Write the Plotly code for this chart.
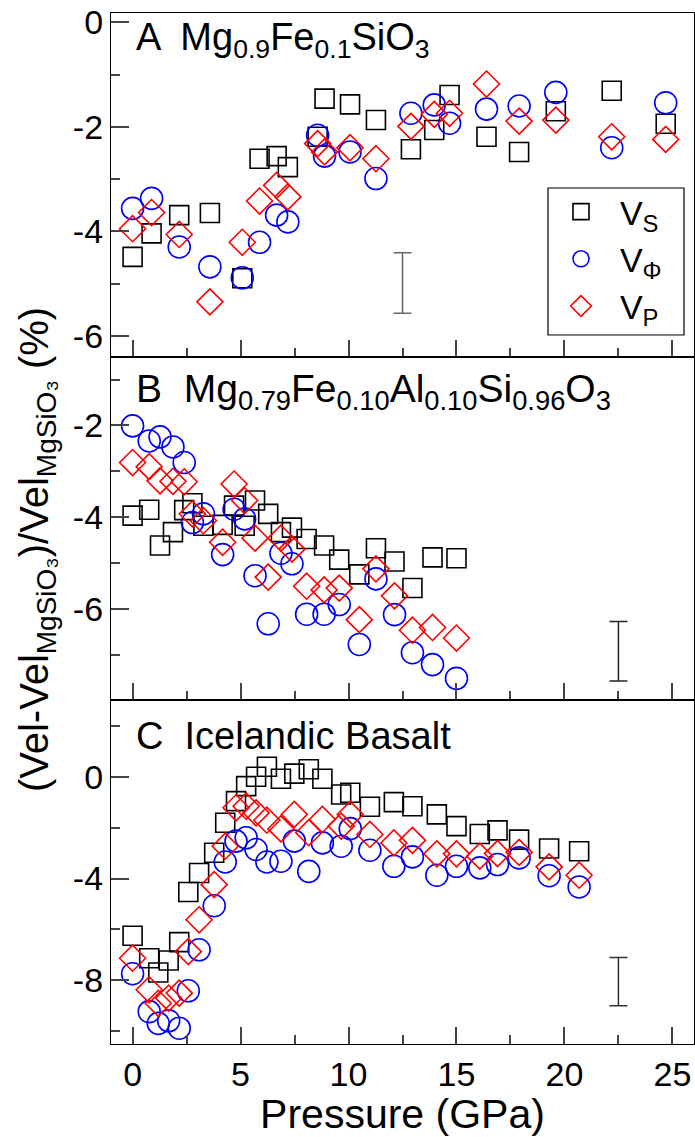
import plotly.graph_objects as go
from plotly.subplots import make_subplots

# ---------------- data ----------------
P_A = [0.0, 0.88, 2.16, 3.58, 5.08, 5.88, 6.67, 7.19, 8.57, 8.89, 10.07, 11.27,
       12.89, 13.97, 14.68, 16.39, 17.9, 19.6, 22.19, 24.69]
VS_A = [-4.49, -4.04, -3.69, -3.65, -4.90, -2.61, -2.56, -2.77, -2.19, -1.46, -1.57, -1.87,
        -2.43, -2.06, -1.39, -2.19, -2.48, -1.70, -1.31, -1.94]
VPHI_A = [-3.56, -3.37, -4.30, -4.68, -4.89, -4.21, -3.69, -3.82, -2.16, -2.56, -2.48, -2.99,
          -1.74, -1.58, -1.93, -1.66, -1.60, -1.34, -2.40, -1.54]
VP_A = [-3.95, -3.64, -4.06, -5.35, -4.21, -3.42, -3.12, -3.34, -2.32, -2.48, -2.40, -2.61,
        -1.99, -1.76, -1.74, -1.18, -1.89, -1.87, -2.19, -2.24]

P_B = [0.0, 0.77, 1.27, 1.87, 2.39, 2.77, 3.28, 4.17, 4.70, 5.19, 5.67, 6.28, 6.87, 7.38,
       8.06, 8.87, 9.57, 10.5, 11.27, 12.13, 12.96, 13.89, 15.0]
VS_B = [-3.97, -3.84, -4.62, -4.33, -3.85, -3.70, -4.19, -4.17, -3.75, -4.19, -3.64, -3.93,
        -4.33, -4.23, -4.48, -4.62, -4.93, -5.25, -4.68, -4.97, -5.55, -4.88, -4.90]
VPHI_B = [-2.01, -2.34, -2.25, -2.47, -2.81, -4.12, -3.93, -4.82, -3.83, -4.04, -5.28, -6.33,
          -4.79, -5.02, -6.12, -6.12, -5.91, -6.78, -5.35, -6.13, -6.96, -7.22, -7.52]
VP_B = [-2.81, -2.90, -3.21, -3.22, -3.23, -3.93, -4.08, -4.55, -3.28, -3.64, -4.46, -5.31,
        -4.46, -4.70, -5.51, -5.59, -5.55, -6.24, -5.13, -5.72, -6.47, -6.41, -6.64]

P_C = [0.0, 0.77, 1.19, 1.67, 2.16, 2.58, 3.08, 3.78, 4.29, 4.79, 5.26, 5.72, 6.22, 6.87,
       7.49, 8.16, 8.79, 9.66, 10.08, 10.99, 12.1, 12.96, 14.09, 15.0, 16.08, 16.9, 17.9,
       19.29, 20.68]
VS_C = [-6.25, -7.13, -7.69, -7.22, -6.50, -4.53, -3.78, -2.99, -1.81, -0.96, -0.37, 0.0,
        0.39, -0.08, 0.12, 0.29, -0.08, -0.70, -0.63, -1.18, -1.00, -1.16, -1.48, -1.94,
        -2.25, -2.11, -2.47, -2.82, -2.93]
VPHI_C = [-7.74, -9.23, -9.69, -9.59, -9.88, -8.41, -6.80, -5.07, -3.35, -2.53, -2.40, -2.86,
          -3.35, -3.32, -2.53, -3.72, -2.60, -2.73, -2.04, -2.89, -3.52, -3.15, -3.87, -3.52,
          -3.58, -3.45, -3.19, -3.89, -4.33]
VP_C = [-7.13, -8.37, -8.90, -8.70, -8.50, -6.87, -5.62, -4.24, -2.73, -1.22, -1.16, -1.42,
        -1.71, -2.05, -1.48, -2.20, -1.68, -1.94, -1.48, -2.27, -2.60, -2.50, -3.03, -3.03,
        -3.12, -3.02, -2.97, -3.54, -3.87]

# representative error bars (one per panel)
ERR_P = [12.5, 22.5, 22.5]
ERR_Y = [-4.99, -6.93, -8.05]
ERR_HALF = [0.58, 0.65, 0.95]
ERR_COLOR = ["#666666", "#222222", "#333333"]

PANEL_LABELS = [
    "A  Mg<sub>0.9</sub>Fe<sub>0.1</sub>SiO<sub>3</sub>",
    "B  Mg<sub>0.79</sub>Fe<sub>0.10</sub>Al<sub>0.10</sub>Si<sub>0.96</sub>O<sub>3</sub>",
    "C  Icelandic Basalt",
]
SERIES_NAMES = ["V<sub>S</sub>", "V<sub>\u03a6</sub>", "V<sub>P</sub>"]

Y_RANGES = [[-6.4, 0.18], [-8.0, -0.5], [-10.5, 3.0]]
Y_TICKS = [[0, -2, -4, -6], [-2, -4, -6], [0, -4, -8]]
Y_TICKTEXT = [["0", "-2", "-4", "-6"], ["-2", "-4", "-6"], ["0", "-4", "-8"]]
Y_MINOR = [[-1, -3, -5], [-1, -3, -5, -7], [2, -2, -6, -10]]
X_TICKS = [0, 5, 10, 15, 20, 25]
X_TICKTEXT = ["0", "5", "10", "15", "20", "25"]

FONT = "Liberation Sans, Arial, sans-serif"

# ---------------- figure ----------------
fig = make_subplots(rows=3, cols=1, shared_xaxes=True, vertical_spacing=0)

panels = [
    (P_A, VS_A, VPHI_A, VP_A),
    (P_B, VS_B, VPHI_B, VP_B),
    (P_C, VS_C, VPHI_C, VP_C),
]
styles = [
    dict(symbol="square-open", size=19, color="black"),
    dict(symbol="circle-open", size=22, color="#0000ff"),
    dict(symbol="diamond-open", size=20, color="#ff0000"),
]

PAD = "\u00a0\u00a0"
for i, (p, vs, vphi, vp) in enumerate(panels):
    row = i + 1
    for name, vals, st in zip(SERIES_NAMES, (vs, vphi, vp), styles):
        fig.add_trace(
            go.Scatter(
                x=p, y=vals, mode="markers", name=PAD + name,
                showlegend=(i == 0), legendgroup=name,
                marker=dict(symbol=st["symbol"], size=st["size"], color=st["color"],
                            line=dict(width=1.6, color=st["color"])),
            ),
            row=row, col=1,
        )
    fig.add_trace(
        go.Scatter(
            x=[ERR_P[i]], y=[ERR_Y[i]], mode="markers", showlegend=False,
            marker=dict(size=1, color="rgba(0,0,0,0)"),
            error_y=dict(type="data", array=[ERR_HALF[i]], visible=True,
                         color=ERR_COLOR[i], thickness=1.5, width=9),
            hoverinfo="skip",
        ),
        row=row, col=1,
    )

axis_common = dict(
    showline=True, linecolor="black", linewidth=1.2, mirror=True,
    showgrid=False, zeroline=False,
    ticks="inside", tickcolor="#444444", tickwidth=1.5,
    tickfont=dict(family=FONT, size=34, color="black"),
)

for i in range(3):
    row = i + 1
    fig.update_yaxes(
        range=Y_RANGES[i], tickmode="array", tickvals=Y_TICKS[i], ticktext=Y_TICKTEXT[i],
        ticklen=18,
        minor=dict(tickmode="array", tickvals=Y_MINOR[i], ticks="inside", ticklen=9,
                   tickcolor="#444444", tickwidth=1.5),
        **axis_common, row=row, col=1,
    )
    fig.update_xaxes(
        range=[-1, 26], tickmode="array", tickvals=X_TICKS, ticktext=X_TICKTEXT, ticklen=17,
        minor=dict(dtick=2.5, tick0=0, ticks="inside", ticklen=9,
                   tickcolor="#444444", tickwidth=1.5),
        **axis_common, row=row, col=1,
    )

fig.update_xaxes(
    title=dict(text="Pressure (GPa)", font=dict(family=FONT, size=41, color="black"),
               standoff=4),
    row=3, col=1,
)

# panel labels
label_y = [0.92, 0.90, 0.895]
label_size = [38, 39, 38]
for i, txt in enumerate(PANEL_LABELS):
    ax = "" if i == 0 else str(i + 1)
    fig.add_annotation(
        text=txt, xref=f"x{ax} domain", yref=f"y{ax} domain",
        x=0.04, y=label_y[i], xanchor="left", yanchor="middle",
        showarrow=False, font=dict(family=FONT, size=label_size[i], color="black"),
    )

# y-axis title
fig.add_annotation(
    text="(Vel-Vel<sub>MgSiO\u2083</sub>)/Vel<sub>MgSiO\u2083</sub> (%)",
    xref="paper", yref="paper", x=-0.127, y=0.48,
    xanchor="center", yanchor="middle", textangle=-90, showarrow=False,
    font=dict(family=FONT, size=40, color="black"),
)

# legend frame (px -> paper)
PLOT_L, PLOT_T, PLOT_W, PLOT_H = 111, 13, 583, 1031
def px_x(v):
    return (v - PLOT_L) / PLOT_W
def px_y(v):
    return 1 - (v - PLOT_T) / PLOT_H

fig.add_shape(type="rect", xref="paper", yref="paper",
              x0=px_x(548), x1=px_x(684), y0=px_y(335), y1=px_y(188),
              line=dict(color="black", width=1.2), fillcolor="white", layer="below")

fig.update_layout(
    width=695, height=1137,
    margin=dict(l=111, r=1, t=13, b=93, autoexpand=False),
    paper_bgcolor="white", plot_bgcolor="white",
    font=dict(family=FONT, color="black"),
    showlegend=True,
    legend=dict(
        x=px_x(561), y=px_y(183), xanchor="left", yanchor="top",
        bgcolor="rgba(0,0,0,0)", borderwidth=0,
        font=dict(family=FONT, size=34, color="black"),
        itemsizing="trace", tracegroupgap=0,
    ),
)

fig.write_html("out.html")
